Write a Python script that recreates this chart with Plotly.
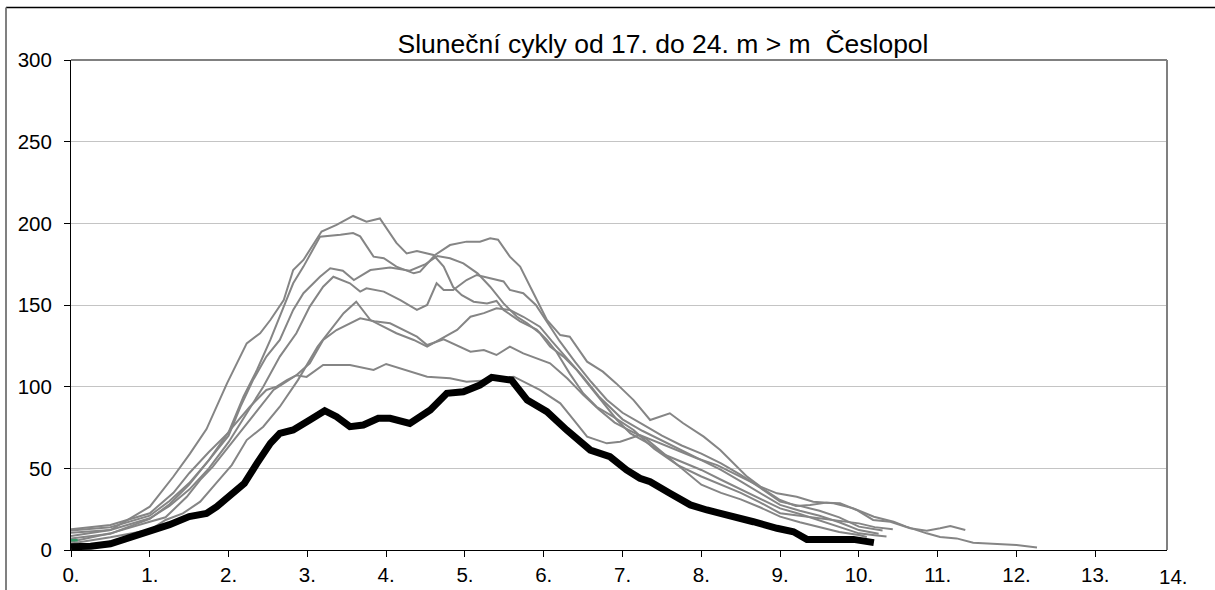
import plotly.graph_objects as go

# ---- data (years from minimum, smoothed values) ----
tick_years = list(range(0, 14))
tick_text = [f"{i}." for i in tick_years]

a_x = [0, 0.5, 1.0, 1.3, 1.51, 1.72, 1.98, 2.23, 2.4, 2.53, 2.7, 2.82, 2.95, 3.18, 3.37, 3.58, 3.75, 3.92, 4.13, 4.26, 4.39, 4.6, 4.73, 4.85, 4.96, 5.11, 5.28, 5.4, 5.49, 5.7, 5.91, 6.04, 6.16, 6.33, 6.5, 6.67, 6.88, 7.14, 7.4, 7.7, 8.0, 8.25, 8.5, 8.75, 9.0, 9.25, 9.5, 9.75, 10.0, 10.2, 10.43]
a_y = [8.5, 12.2, 26.5, 45, 59, 74, 102, 126.5, 132.7, 140.8, 153, 171.4, 177.6, 195, 199, 204.5, 201, 203, 188, 181.6, 183, 180.6, 173.5, 161, 156, 152, 151, 152.5, 147, 140, 135, 128.6, 121.4, 108, 96, 87.7, 81.6, 73.5, 62, 52, 45, 40, 35, 29, 22.5, 21, 19.5, 18, 16.3, 14, 12.7]

b_x = [0, 0.5, 1.0, 1.3, 1.5, 1.75, 2.0, 2.19, 2.36, 2.53, 2.7, 2.82, 2.95, 3.16, 3.42, 3.58, 3.67, 3.84, 3.97, 4.13, 4.35, 4.43, 4.62, 4.81, 5.02, 5.19, 5.32, 5.42, 5.57, 5.7, 5.87, 6.04, 6.21, 6.33, 6.55, 6.75, 6.92, 7.14, 7.35, 7.6, 7.77, 8.03, 8.24, 8.45, 8.58, 8.75, 8.96, 9.21, 9.42, 9.68, 9.93, 10.19, 10.44, 10.6, 10.86, 11.03, 11.24, 11.45, 11.75, 12.0, 12.26]
b_y = [12.7, 15.3, 22.5, 35, 47, 60, 72, 94, 110.2, 128.6, 149, 163.3, 173.5, 191.8, 193, 194, 192, 179.6, 178.6, 173.5, 169.4, 170.4, 180.6, 186.7, 188.8, 188.8, 190.8, 190, 179.6, 173.5, 157.2, 140.8, 131.6, 130.6, 115.3, 109.2, 102, 91.8, 79.6, 83.7, 77.6, 69.4, 61.2, 51, 44.9, 38.8, 34.7, 32.6, 29.6, 28.6, 25.5, 20.4, 17.3, 14.3, 10.2, 8, 7.1, 4.5, 3.7, 3.1, 1.6]

c_x = [0, 0.5, 1.0, 1.25, 1.5, 1.75, 2.0, 2.15, 2.31, 2.48, 2.65, 2.82, 2.95, 3.16, 3.29, 3.45, 3.59, 3.8, 4.05, 4.3, 4.5, 4.65, 4.81, 4.98, 5.16, 5.32, 5.49, 5.66, 5.79, 5.95, 6.08, 6.25, 6.42, 6.59, 6.76, 6.93, 7.1, 7.3, 7.55, 7.8, 8.0, 8.25, 8.5, 8.75, 9.0, 9.25, 9.5, 9.75, 10.0, 10.2, 10.35]
c_y = [12, 13.9, 21, 30, 41, 55, 70, 87.7, 104, 118.4, 128.6, 147, 157.2, 167.3, 172.5, 171, 165.3, 171.4, 172.9, 171, 175, 180, 178.6, 175.5, 169.4, 161.2, 151, 142.8, 138.8, 132.7, 124.5, 118.4, 110.2, 100, 89.8, 79.6, 71.4, 66, 58, 53, 49, 43, 37, 31, 25.5, 22, 18, 14, 10.2, 9, 8.2]

d_x = [0, 0.5, 1.0, 1.25, 1.5, 1.75, 2.0, 2.23, 2.44, 2.65, 2.86, 3.03, 3.2, 3.33, 3.54, 3.67, 3.75, 3.97, 4.18, 4.39, 4.52, 4.64, 4.73, 4.85, 5.02, 5.15, 5.32, 5.49, 5.57, 5.74, 5.9, 6.04, 6.2, 6.4, 6.6, 6.8, 7.0, 7.25, 7.5, 7.75, 8.0, 8.25, 8.5, 8.75, 9.0, 9.25, 9.5, 9.75, 10.0, 10.3]
d_y = [10.6, 12.2, 19.4, 27, 37, 50, 66, 83.7, 100, 118.4, 132.7, 149, 161.2, 167.3, 163.3, 158.2, 160.2, 158.2, 153, 147, 150, 163.3, 159.2, 159.2, 165.3, 168.4, 166.4, 164.4, 159.2, 157.2, 150, 140, 128, 115, 103, 92, 84, 77, 70, 64, 59, 53, 46, 38, 29.6, 27, 24, 20, 14.3, 12]

e_x = [0, 0.5, 1.0, 1.2, 1.42, 1.64, 1.84, 2.04, 2.23, 2.44, 2.65, 2.88, 3.13, 3.29, 3.46, 3.62, 3.8, 4.13, 4.35, 4.52, 4.64, 4.9, 5.07, 5.24, 5.4, 5.57, 5.74, 5.95, 6.1, 6.3, 6.5, 6.7, 6.9, 7.0, 7.25, 7.5, 7.75, 8.0, 8.25, 8.5, 8.75, 9.0, 9.25, 9.5, 9.75, 10.0, 10.25]
e_y = [4, 7.8, 12.2, 18.4, 22.4, 29.6, 40.8, 52, 67.3, 75.5, 87.7, 104, 124.5, 134.7, 145, 152, 140.8, 132.7, 128.6, 124.5, 127.6, 134.7, 142.8, 145, 148, 147, 142.8, 136.7, 128, 117, 106, 94, 85, 80, 73, 67, 61, 55, 49, 42, 35, 27.6, 24, 21, 17, 12.2, 10]

f_x = [0, 0.5, 1.0, 1.2, 1.47, 1.64, 1.8, 2.06, 2.3, 2.57, 2.86, 3.03, 3.2, 3.37, 3.67, 3.85, 4.05, 4.39, 4.52, 4.73, 5.07, 5.24, 5.4, 5.57, 5.74, 6.08, 6.3, 6.5, 6.7, 6.9, 7.1, 7.3, 7.5, 7.75, 8.0, 8.25, 8.5, 8.75, 9.0, 9.25, 9.5, 9.75, 10.0, 10.1]
f_y = [5.1, 10.2, 17.3, 20, 32.6, 43, 51, 67, 82, 98, 107, 114.3, 128.6, 134.7, 141.9, 140, 138.8, 130.6, 125.5, 129, 121.4, 122.4, 119.4, 124.5, 120.4, 114.3, 105, 95, 86, 78, 73, 68, 60, 50, 40, 35, 31, 26, 20.4, 17, 14, 11, 9.2, 8]

g_x = [0, 0.5, 1.0, 1.25, 1.5, 1.75, 2.02, 2.27, 2.48, 2.61, 2.74, 2.86, 2.99, 3.2, 3.54, 3.84, 4.0, 4.3, 4.52, 4.81, 5.02, 5.3, 5.62, 5.95, 6.21, 6.38, 6.55, 6.8, 6.97, 7.22, 7.45, 7.7, 7.95, 8.2, 8.45, 8.7, 9.0, 9.2, 9.38, 9.59, 9.76, 9.97, 10.18, 10.4, 10.65, 10.86, 11.03, 11.16, 11.35]
g_y = [7, 10, 19, 28, 40, 55, 73.5, 87.7, 98, 100, 104, 107, 106, 113.3, 113.3, 110.2, 113.9, 109.2, 106.1, 105.1, 103, 104, 106.1, 98, 89.8, 79.6, 69.4, 65.3, 66.3, 70.4, 66, 61, 56, 52, 46, 40, 30.6, 27, 27.6, 29, 28.6, 24.5, 18.4, 17.3, 13.3, 11.8, 13.3, 14.7, 12.2]

black_x = [0, 0.25, 0.5, 0.75, 1.0, 1.25, 1.5, 1.72, 1.85, 2.0, 2.2, 2.36, 2.53, 2.65, 2.82, 3.03, 3.22, 3.37, 3.54, 3.71, 3.9, 4.05, 4.3, 4.56, 4.77, 4.98, 5.19, 5.34, 5.59, 5.79, 6.04, 6.29, 6.59, 6.84, 7.05, 7.22, 7.35, 7.6, 7.86, 8.07, 8.37, 8.66, 8.96, 9.17, 9.34, 9.68, 9.93, 10.19]
black_y = [2, 2.3, 3.8, 7.5, 11, 15.5, 20.5, 22.4, 26.5, 33, 40.8, 53, 65.3, 71.4, 73.5, 79.6, 85.3, 81.6, 75.5, 76.5, 80.6, 80.6, 77.5, 85.7, 95.9, 96.9, 101, 105.7, 104, 91.8, 84.7, 73.5, 61.2, 57.1, 49, 43.9, 41.8, 34.7, 27.6, 24.5, 21.4, 17.3, 13.3, 11.2, 6.5, 6.1, 6.5, 4.5]

green_x = [0, 0.085]
green_y = [6, 6]

gray_series = [(a_x, a_y), (b_x, b_y), (c_x, c_y), (d_x, d_y), (e_x, e_y), (f_x, f_y), (g_x, g_y)]

FONT = "Liberation Sans, Arial, sans-serif"
XMAX = 13.91

fig = go.Figure()
for xs, ys in gray_series:
    fig.add_trace(go.Scatter(x=xs, y=ys, mode="lines",
                             line=dict(color="#858585", width=2), showlegend=False,
                             hoverinfo="skip"))
fig.add_trace(go.Scatter(x=green_x, y=green_y, mode="lines",
                         line=dict(color="#339966", width=2.5), showlegend=False))
fig.add_trace(go.Scatter(x=black_x, y=black_y, mode="lines",
                         line=dict(color="#000000", width=7), showlegend=False))

fig.update_layout(
    width=1215, height=590,
    margin=dict(l=71, r=48, t=60, b=40, autoexpand=False),
    paper_bgcolor="white", plot_bgcolor="white",
    font=dict(family=FONT, color="black", size=20),
    title=dict(text="Sluneční cykly od 17. do 24. m &gt; m\u00a0 Česlopol",
               font=dict(family=FONT, size=26.5, color="black"),
               xref="paper", x=(663 - 71) / 1096, xanchor="center",
               yref="container", y=1 - 44 / 590, yanchor="middle"),
    xaxis=dict(range=[0, XMAX], tickvals=tick_years, ticktext=tick_text,
               automargin=False,
               showgrid=False, zeroline=False, showline=True, linecolor="black",
               linewidth=1, ticks="outside", ticklen=6, tickcolor="black",
               tickfont=dict(size=20.5, family=FONT)),
    yaxis=dict(range=[0, 300], tickvals=[0, 50, 100, 150, 200, 250, 300],
               automargin=False,
               showgrid=True, gridcolor="#c4c4c4", gridwidth=1, zeroline=False,
               showline=True, linecolor="black", linewidth=1, ticks="outside",
               ticklen=6, tickcolor="black", ticklabelstandoff=8,
               tickfont=dict(size=20.5, family=FONT)),
    shapes=[
        dict(type="line", xref="paper", yref="paper", x0=0, x1=1, y0=1, y1=1,
             line=dict(color="#808080", width=2)),
        dict(type="line", xref="paper", yref="paper", x0=1, x1=1, y0=0, y1=1,
             line=dict(color="#808080", width=2)),
        dict(type="line", xref="paper", yref="paper", x0=-65 / 1096, x1=1144 / 1096,
             y0=542.5 / 490, y1=542.5 / 490, line=dict(color="black", width=1.5)),
        dict(type="line", xref="paper", yref="paper", x0=-65 / 1096, x1=-65 / 1096,
             y0=542.5 / 490, y1=-40 / 490, line=dict(color="#808080", width=2)),
    ],
    annotations=[
        dict(text="14.", xref="paper", yref="paper", x=(14 * 78.77) / 1096,
             y=0, xanchor="center", yanchor="top", yshift=-13, showarrow=False,
             font=dict(size=20.5, family=FONT, color="black")),
    ],
)

fig.write_html("out.html", config={"displayModeBar": False},
               post_script="document.body.style.margin='0';document.body.style.overflow='hidden';")
